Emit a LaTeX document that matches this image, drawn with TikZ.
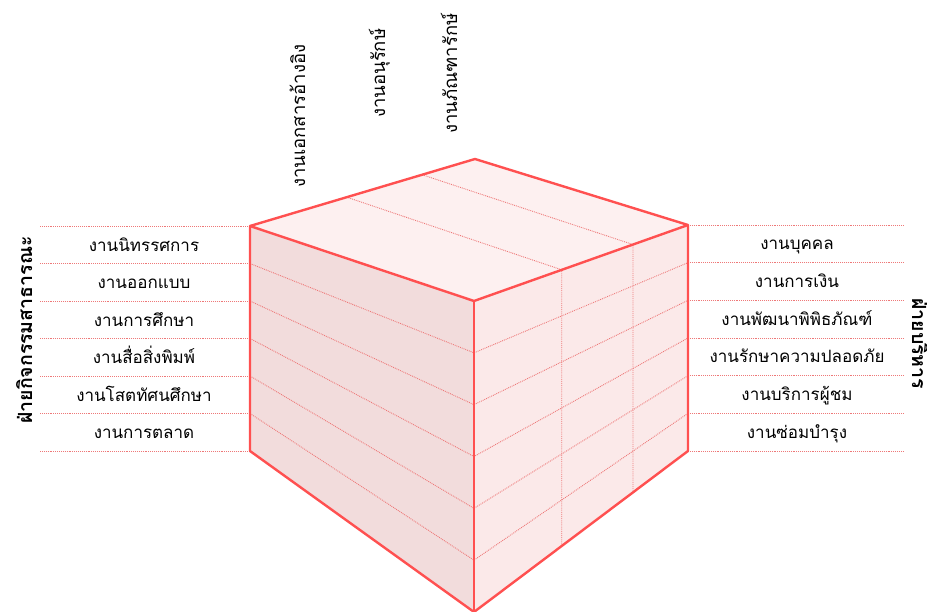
\documentclass[tikz,border=0pt]{standalone}
\usepackage{fontspec}
\newfontfamily\thaifont[Script=Thai]{Loma}
\usetikzlibrary{calc}
\definecolor{cubeedge}{HTML}{FF5050}
\definecolor{gridred}{HTML}{EE7878}
\definecolor{leftfill}{HTML}{F2DCDC}
\definecolor{topfill}{HTML}{FDF0F0}
\definecolor{rightfill}{HTML}{FBE9E9}
\tikzset{
  edgeline/.style={draw=cubeedge, line width=2.4pt, line join=round},
  gridline/.style={draw=gridred, line width=0.9pt, densely dotted},
  guideline/.style={draw=gridred, line width=0.9pt, densely dotted},
  rowlabel/.style={font=\thaifont\fontsize{17}{19}\selectfont, anchor=base, inner sep=0pt},
  sidelabel/.style={font=\thaifont\bfseries\fontsize{19.5}{21}\selectfont, anchor=base west, inner sep=0pt},
  toplabel/.style={font=\thaifont\fontsize{18.5}{20}\selectfont, anchor=base west, inner sep=0pt, rotate=90},
}
\begin{document}
\begin{tikzpicture}[x=1pt,y=-1pt]
\useasboundingbox (0,0) rectangle (927,612);
\coordinate (T) at (475,159);
\coordinate (L) at (250,226);
\coordinate (R) at (688,225);
\coordinate (F) at (474,301);
\coordinate (LB) at (250,451);
\coordinate (RB) at (688,451);
\coordinate (B) at (474,612);
\coordinate (lx) at (40,0);
\coordinate (rx) at (903,0);

\fill[leftfill] (L) -- (F) -- (B) -- (LB) -- cycle;
\fill[topfill] (L) -- (T) -- (R) -- (F) -- cycle;
\fill[rightfill] (F) -- (R) -- (RB) -- (B) -- cycle;

\foreach \k in {1,...,5} {
  \draw[gridline] ($(L)!\k/6!(LB)$) -- ($(F)!\k/6!(B)$) -- ($(R)!\k/6!(RB)$);
}
\coordinate (ta) at ($(L)!0.43!(T)$);
\coordinate (tb) at ($(L)!0.765!(T)$);
\coordinate (fa) at ($(F)!0.41!(R)$);
\coordinate (fb) at ($(F)!0.743!(R)$);
\coordinate (ba) at ($(B)!0.41!(RB)$);
\coordinate (bb) at ($(B)!0.743!(RB)$);
\draw[gridline] (ta) -- (fa) -- (ba);
\draw[gridline] (tb) -- (fb) -- (bb);

\foreach \k in {0,...,6} {
  \coordinate (lg\k) at ($(L)!\k/6!(LB)$);
  \draw[guideline] (lg\k -| lx) -- (lg\k);
  \coordinate (rg\k) at ($(R)!\k/6!(RB)$);
  \draw[guideline] (rg\k) -- (rg\k -| rx);
}

\draw[edgeline] (L) -- (T) -- (R) -- (RB) -- (B) -- (LB) -- cycle;
\draw[edgeline] (L) -- (F) -- (R);
\draw[edgeline] (F) -- (B);

\foreach \t [count=\i] in {งานนิทรรศการ, งานออกแบบ, งานการศึกษา, งานสื่อสิ่งพิมพ์, งานโสตทัศนศึกษา, งานการตลาด} {
  \node[rowlabel] (ll\i) at (144, {226+(\i-0.5)*37.5+6.5}) {\t};
}
\foreach \t [count=\i] in {งานบุคคล, งานการเงิน, งานพัฒนาพิพิธภัณฑ์, งานรักษาความปลอดภัย, งานบริการผู้ชม, งานซ่อมบำรุง} {
  \node[rowlabel] (rl\i) at (797, {225+(\i-0.5)*37.67+6}) {\t};
}

\node[sidelabel, rotate=90] (side1) at (32,424) {ฝ่ายกิจกรรมสาธารณะ};
\node[sidelabel, rotate=-90] (side2) at (912,298) {ฝ่ายบริหาร};

\node[toplabel] (top1) at (305,188) {งานเอกสารอ้างอิง};
\node[toplabel] (top2) at (385,118) {งานอนุรักษ์};
\node[toplabel] (top3) at (457,134) {งานภัณฑารักษ์};
\end{tikzpicture}
\end{document}
